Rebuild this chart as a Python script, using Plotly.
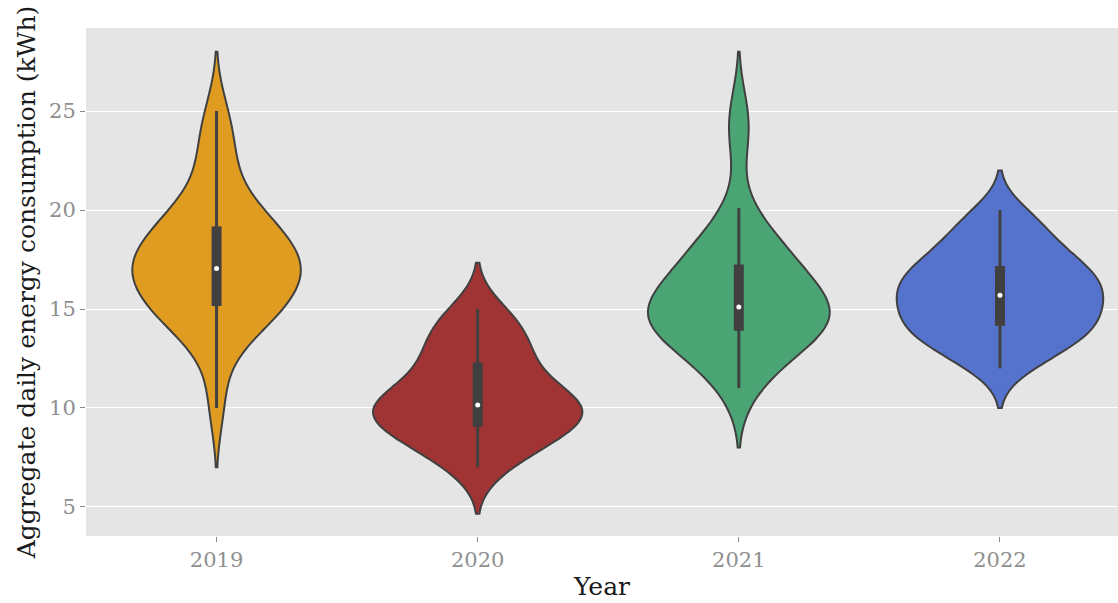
import numpy as np
import plotly.graph_objects as go

years = ["2019", "2020", "2021", "2022"]

kwh_2019 = [10.0, 12.3, 13.8, 14.3, 14.5, 14.7, 14.9, 15.0, 15.2, 16.0,
            16.3, 16.4, 16.6, 16.8, 16.9, 17.0, 17.1, 17.4, 17.7, 17.9,
            18.2, 18.4, 18.7, 19.1, 19.4, 19.7, 20.0, 20.3, 21.8, 22.7,
            23.8, 25.0]
kwh_2020 = [7.0, 7.4, 7.8, 8.2, 8.5, 8.7, 8.9, 9.0, 9.2, 9.6,
            9.7, 9.8, 9.9, 10.0, 10.1, 10.2, 10.4, 10.6, 10.8, 11.1,
            11.5, 12.0, 12.4, 12.6, 12.9, 13.4, 13.8, 14.2, 14.6, 15.0]
kwh_2021 = [11.0, 11.7, 12.3, 12.8, 13.2, 13.5, 13.7, 13.8, 14.0, 14.2,
            14.4, 14.6, 14.8, 14.9, 15.0, 15.1, 15.3, 15.5, 15.8, 16.1,
            16.4, 16.7, 17.1, 17.4, 17.7, 18.0, 18.4, 18.9, 20.1, 23.5,
            25.0]
kwh_2022 = [12.0, 12.4, 12.8, 13.2, 13.5, 13.6, 13.7, 14.0, 14.2, 14.4,
            14.6, 14.8, 15.0, 15.2, 15.4, 15.6, 15.8, 16.0, 16.2, 16.4,
            16.5, 16.7, 16.9, 17.1, 17.4, 17.7, 17.9, 18.3, 18.6, 19.1,
            19.6, 20.0]

series = [kwh_2019, kwh_2020, kwh_2021, kwh_2022]
colors = ["#DF9C20", "#A03434", "#4BA473", "#5573CD"]
bandwidths = [1.5, 1.17, 1.5, 1.0]

EDGE = "#404040"
FONT = "DejaVu Serif"
MAX_WIDTH = 0.8


def kde_peak(vals, bw):
    arr = np.asarray(vals)
    grid = np.linspace(arr.min() - 2 * bw, arr.max() + 2 * bw, 600)
    dens = np.exp(-0.5 * ((grid[:, None] - arr[None, :]) / bw) ** 2).sum(axis=1)
    return dens.max() / (len(arr) * bw * np.sqrt(2 * np.pi))


# "count" scaling: violin width proportional to n * peak density
weights = [len(v) * kde_peak(v, b) for v, b in zip(series, bandwidths)]
top = max(weights)

fig = go.Figure()

for year, vals, col, bw, wt in zip(years, series, colors, bandwidths, weights):
    fig.add_trace(go.Violin(
        x=[year] * len(vals), y=vals, name=year,
        fillcolor=col, opacity=1,
        line=dict(color=EDGE, width=2),
        points=False, box_visible=False, meanline_visible=False,
        bandwidth=bw, spanmode="soft",
        scalemode="width", scalegroup=year, width=MAX_WIDTH * wt / top,
        showlegend=False, hoverinfo="skip",
    ))

for year, vals in zip(years, series):
    arr = np.array(vals)
    q1, med, q3 = np.percentile(arr, [25, 50, 75])
    iqr = q3 - q1
    lo = arr[arr >= q1 - 1.5 * iqr].min()
    hi = arr[arr <= q3 + 1.5 * iqr].max()
    fig.add_trace(go.Scatter(x=[year, year], y=[lo, hi], mode="lines",
                             line=dict(color=EDGE, width=3),
                             showlegend=False, hoverinfo="skip"))
    fig.add_trace(go.Scatter(x=[year, year], y=[q1, q3], mode="lines",
                             line=dict(color=EDGE, width=10),
                             showlegend=False, hoverinfo="skip"))
    fig.add_trace(go.Scatter(x=[year], y=[med], mode="markers",
                             marker=dict(color="white", size=5, line=dict(width=0)),
                             showlegend=False, hoverinfo="skip"))

fig.update_layout(
    width=1118, height=603,
    margin=dict(l=86, r=0, t=28, b=67),
    paper_bgcolor="white", plot_bgcolor="#E5E5E5",
    violinmode="overlay",
    font=dict(family=FONT),
    showlegend=False,
)
fig.update_xaxes(
    type="category", categoryorder="array", categoryarray=years,
    range=[-0.5, 3.452], showgrid=False, zeroline=False,
    ticks="outside", ticklen=5, tickwidth=1, tickcolor="#8a8a8a",
    tickfont=dict(family=FONT, size=21, color="#8f8f8f"),
    title=dict(text="Year", font=dict(family=FONT, size=25, color="#1a1a1a"), standoff=6),
)
fig.update_yaxes(
    range=[3.53, 29.2], tickvals=[5, 10, 15, 20, 25],
    showgrid=True, gridcolor="white", gridwidth=1.3, zeroline=False,
    ticks="outside", ticklen=5, tickwidth=1, tickcolor="#8a8a8a",
    tickfont=dict(family=FONT, size=21, color="#8f8f8f"),
    title=dict(text="Aggregate daily energy consumption (kWh)",
               font=dict(family=FONT, size=25, color="#1a1a1a"), standoff=6),
)

fig.write_html("out.html")
